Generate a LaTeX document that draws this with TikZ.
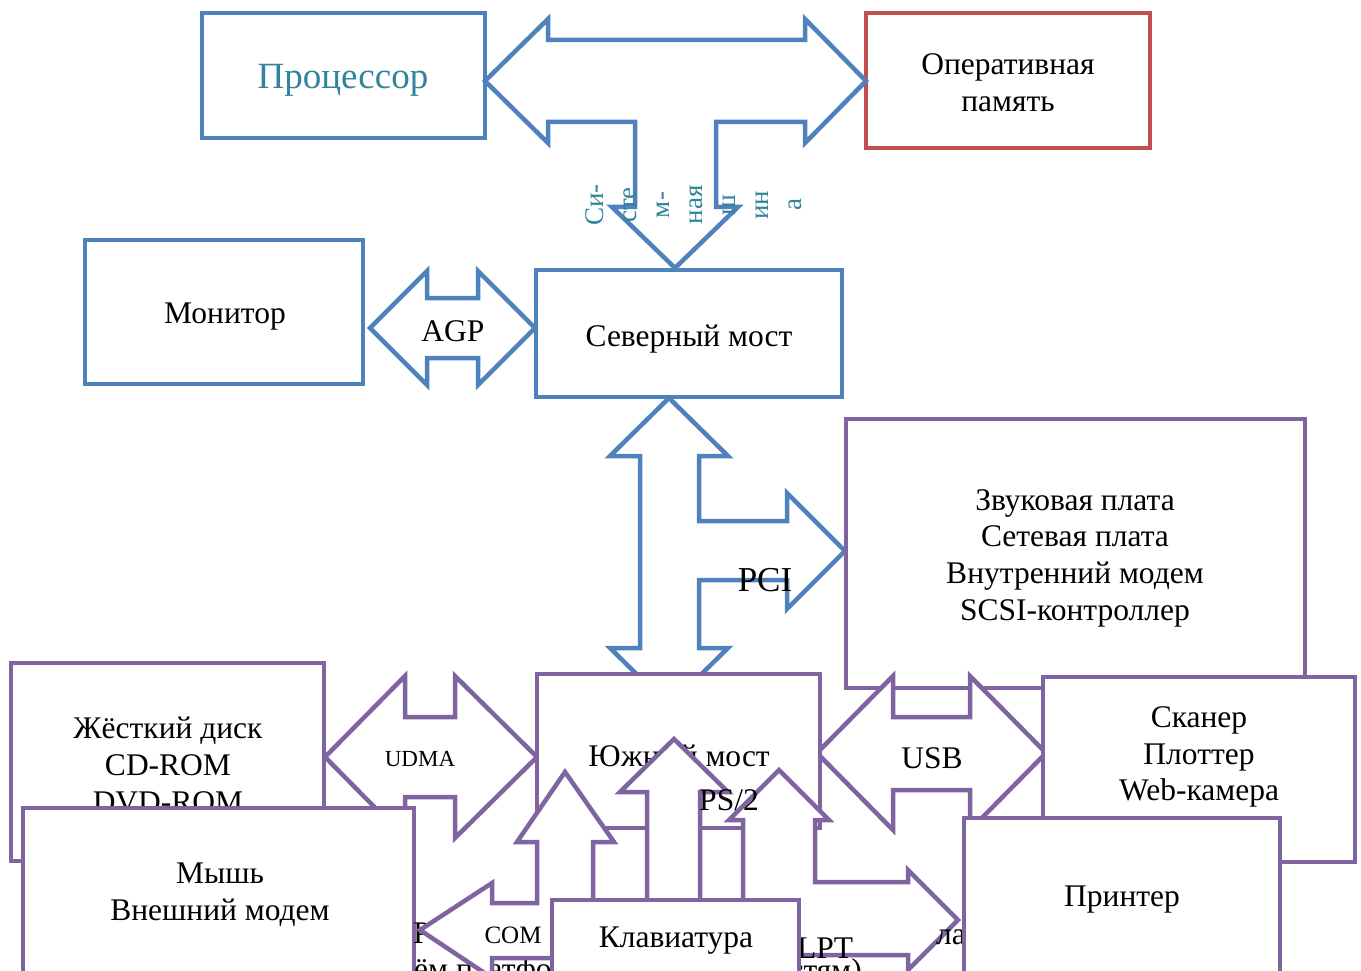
\documentclass[tikz,border=0pt]{standalone}
\usepackage{fontspec}
\setmainfont{Liberation Serif}
\definecolor{blueC}{HTML}{4F81BD}
\definecolor{redC}{HTML}{C0504D}
\definecolor{purpC}{HTML}{8064A2}
\definecolor{tealC}{HTML}{31849B}
\begin{document}
\begin{tikzpicture}[x=1pt,y=-1pt,
  bl/.style={draw=blueC,line width=4.5pt,fill=white},
  pu/.style={draw=purpC,line width=4.5pt,fill=white},
  rd/.style={draw=redC,line width=4.5pt,fill=white},
  txt/.style={font=\fontsize{31.5}{36.7}\selectfont,align=center,inner sep=0pt},
  small/.style={font=\fontsize{23}{28}\selectfont,inner sep=0pt},
]
\path[clip] (0,0) rectangle (1361,971);
\fill[white] (0,0) rectangle (1361,971);

% --- top part ---
\draw[bl] (202,13) rectangle (485,138);
\node[txt,text=tealC,font=\fontsize{37}{42}\selectfont] (proc) at (343,80) {Процессор};
\draw[rd] (866,13) rectangle (1150,148);
\node[txt] (ram) at (1008,83) {Оперативная\\память};

\draw[bl] (485,81) -- (548,19) -- (548,40) -- (805,40) -- (805,19) -- (866,81)
  -- (805,143) -- (805,122) -- (716,122) -- (716,207) -- (738,207) -- (675,268)
  -- (612,207) -- (635,207) -- (635,122) -- (548,122) -- (548,143) -- cycle;
\node[txt,text=tealC,rotate=90,font=\fontsize{27}{33}\selectfont] (bus) at (694,205)
  {Си-\\сте\\м-\\ная\\ш\\ин\\а};

\draw[bl] (85,240) rectangle (363,384);
\node[txt] (mon) at (225,317) {Монитор};
\draw[bl] (370,328) -- (427,271) -- (427,298) -- (478,298) -- (478,271) -- (535,328)
  -- (478,385) -- (478,358) -- (427,358) -- (427,385) -- cycle;
\node[txt] (agp) at (453,331) {AGP};
\draw[bl] (536,270) rectangle (842,397);
\node[txt] (nb) at (689,339) {Северный мост};

\draw[bl] (669,398) -- (728,456) -- (699,456) -- (699,521) -- (787,521) -- (787,493)
  -- (845,551) -- (787,609) -- (787,580) -- (699,580) -- (699,648) -- (728,648)
  -- (669,706) -- (610,648) -- (640,648) -- (640,456) -- (610,456) -- cycle;
\node[txt,font=\fontsize{35}{40}\selectfont] (pci) at (765,580) {PCI};

\draw[pu] (846,419) rectangle (1305,688);
\node[txt] (snd) at (1075,558) {Звуковая плата\\Сетевая плата\\Внутренний модем\\SCSI-контроллер};

\draw[pu] (817,753) -- (893,676) -- (893,717) -- (970,717) -- (970,676) -- (1046,753)
  -- (970,830) -- (970,790) -- (893,790) -- (893,830) -- cycle;
\node[txt] (usb) at (932,758) {USB};

\draw[pu] (1043,677) rectangle (1355,862);
\node[txt] (scan) at (1199,757) {Сканер\\Плоттер\\Web-камера};

% --- left bottom ---
\draw[pu] (11,663) rectangle (324,861);
\node[txt] (hdd) at (168,765) {Жёсткий диск\\CD-ROM\\DVD-ROM};
\draw[pu] (325,757) -- (405,676) -- (405,717) -- (455,717) -- (455,676) -- (537,757)
  -- (455,838) -- (455,797) -- (405,797) -- (405,838) -- cycle;
\node[small] (udma) at (420,759) {UDMA};
\draw[pu] (23,808) rectangle (414,995);
\node[txt] (mouse) at (220,895) {Мышь\\Внешний модем};

% --- south bridge ---
\draw[pu] (537,674) rectangle (820,828);
\node[txt] (sb) at (679,756) {Южный мост};

% COM
\node[txt,anchor=base west] (frP) at (413,943) {Р};
\node[txt,anchor=base west] (frPl) at (414,979) {ём платфо};
\draw[pu] (565,772) -- (614,842) -- (593,842) -- (593,958) -- (492,958) -- (492,978)
  -- (420,930) -- (492,883) -- (492,903) -- (537,903) -- (537,842) -- (517,842) -- cycle;
\node[small,font=\fontsize{25}{30}\selectfont] (com) at (513,935) {COM};

% LPT
\draw[pu] (779,770) -- (829,820) -- (815,820) -- (815,882) -- (908,882) -- (908,870)
  -- (958,920) -- (908,970) -- (908,955) -- (743,955) -- (743,820) -- (729,820) -- cycle;
\node[txt,anchor=base west] (lpt) at (797,958) {LPT};
\node[txt,anchor=base east] (frSt) at (862,980) {стям)};
\node[txt,anchor=base east] (frLa) at (966,944) {ла};

% PS/2
\draw[pu] (674,739) -- (728,792) -- (700,792) -- (700,905) -- (647,905) -- (647,792)
  -- (620,792) -- cycle;
\node[txt] (ps2) at (729,800) {PS/2};

\draw[pu] (552,900) rectangle (799,995);
\node[txt] (kbd) at (676,941) {Клавиатура};

\draw[pu] (964,818) rectangle (1280,995);
\node[txt] (prn) at (1122,900) {Принтер};
\end{tikzpicture}
\end{document}
